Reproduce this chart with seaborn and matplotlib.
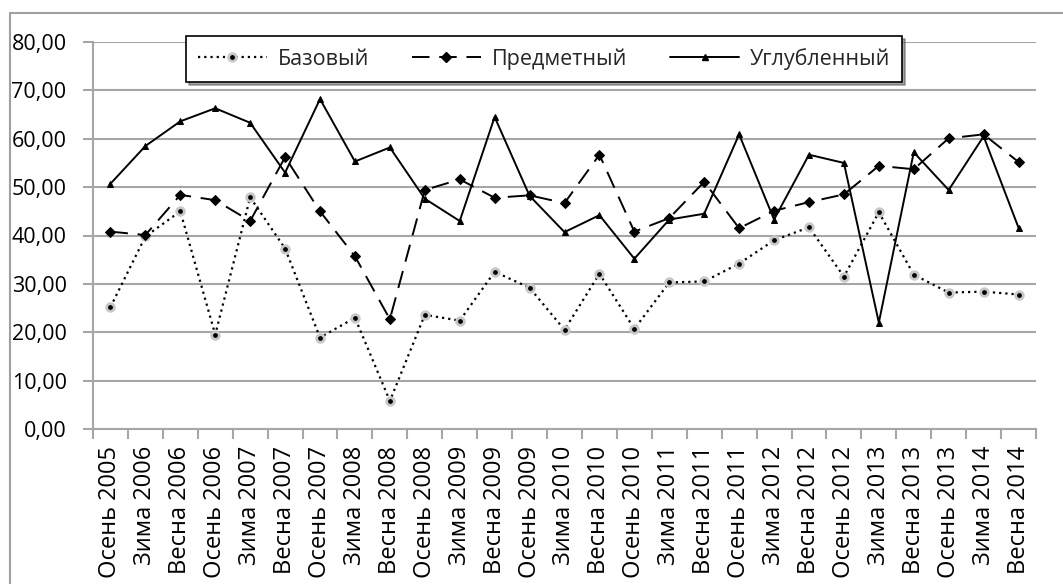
import numpy as np
import pandas as pd
import matplotlib
matplotlib.use('Agg')
import matplotlib.pyplot as plt
from matplotlib.lines import Line2D
import seaborn as sns

# categories (semester labels)
periods = ['Осень 2005', 'Зима 2006', 'Весна 2006', 'Осень 2006', 'Зима 2007',
           'Весна 2007', 'Осень 2007', 'Зима 2008', 'Весна 2008', 'Осень 2008',
           'Зима 2009', 'Весна 2009', 'Осень 2009', 'Зима 2010', 'Весна 2010',
           'Осень 2010', 'Зима 2011', 'Весна 2011', 'Осень 2011', 'Зима 2012',
           'Весна 2012', 'Осень 2012', 'Зима 2013', 'Весна 2013', 'Осень 2013',
           'Зима 2014', 'Весна 2014']

# series values
bazovy = [25.2, 39.8, 45.0, 19.5, 47.9, 37.3, 18.9, 23.0, 5.8, 23.6,
          22.4, 32.5, 29.2, 20.5, 32.1, 20.7, 30.3, 30.5, 34.2, 39.0,
          41.7, 31.5, 44.8, 31.9, 28.2, 28.4, 27.8]
predmetny = [40.8, 40.1, 48.4, 47.3, 43.0, 56.2, 45.0, 35.7, 22.7, 49.4,
             51.6, 47.8, 48.3, 46.7, 56.7, 40.8, 43.6, 51.1, 41.5, 45.1,
             46.9, 48.5, 54.4, 53.7, 60.1, 60.9, 55.2]
uglubl = [50.7, 58.5, 63.6, 66.3, 63.3, 53.0, 68.2, 55.3, 58.2, 47.6,
          43.0, 64.5, 48.2, 40.7, 44.2, 35.2, 43.3, 44.5, 60.9, 43.3,
          56.7, 55.0, 22.0, 57.2, 49.4, 60.5, 41.6]

series_names = ['Базовый', 'Предметный', 'Углубленный']

sns.set_theme(style='white')
plt.rcParams['font.family'] = ['Open Sans', 'DejaVu Sans']

df = pd.DataFrame({'pos': np.arange(len(periods)), 'period': periods,
                   series_names[0]: bazovy, series_names[1]: predmetny,
                   series_names[2]: uglubl})

fig = plt.figure(figsize=(10.63, 5.84), dpi=100)
ax = fig.add_axes([93 / 1063, 1 - 429 / 584, (1036 - 93) / 1063, (429 - 42) / 584])

grid_c = '#a6a6a6'
dot_style = (0, (1, 1.8))
dash_style = (0, (9, 5))

# base: dotted with grey halo markers
sns.lineplot(data=df, x='pos', y=series_names[0], ax=ax, color='black', lw=1.6,
             linestyle=dot_style, marker='o', markersize=5.5,
             markerfacecolor='black', markeredgecolor='#c8c8c8', markeredgewidth=2)
# subject: long dashes, diamonds
sns.lineplot(data=df, x='pos', y=series_names[1], ax=ax, color='black', lw=1.4,
             linestyle=dash_style, marker='D', markersize=5.5,
             markerfacecolor='black', markeredgecolor='black')
# advanced: solid, small triangles
sns.lineplot(data=df, x='pos', y=series_names[2], ax=ax, color='black', lw=1.4,
             marker='^', markersize=4.5, markerfacecolor='black',
             markeredgecolor='black')

ax.set_xlim(-0.5, len(periods) - 0.5)
ax.set_ylim(0, 80)
ax.set_yticks(np.arange(0, 81, 10))
ax.set_yticklabels([f'{v:.2f}'.replace('.', ',') for v in np.arange(0, 81, 10)])
ax.set_xticks(np.arange(len(periods)))
ax.set_xticklabels(periods, rotation=90)
ax.set_xticks(np.arange(-0.5, len(periods), 1), minor=True)
ax.tick_params(axis='x', which='major', length=0, pad=12, labelsize=17,
               labelcolor='black')
ax.tick_params(axis='x', which='minor', length=7, width=1.5, color=grid_c, bottom=True)
ax.tick_params(axis='y', length=7, width=1.5, color=grid_c, left=True, pad=12,
               labelsize=15.5, labelcolor='black')
ax.set_xlabel('')
ax.set_ylabel('')
ax.grid(axis='y', color=grid_c, lw=1.5)
ax.set_axisbelow(True)
for side in ['top', 'right']:
    ax.spines[side].set_visible(False)
for side in ['left', 'bottom']:
    ax.spines[side].set_color(grid_c)
    ax.spines[side].set_linewidth(1.5)

# outer chart border (only top and left visible in the crop)
fig.add_artist(Line2D([10 / 1063, 1.0], [1 - 13 / 584] * 2, color='#a0a0a0', lw=1.5))
fig.add_artist(Line2D([10 / 1063] * 2, [0, 1 - 13 / 584], color='#a0a0a0', lw=1.5))

handles = [
    Line2D([], [], color='black', lw=1.6, linestyle=dot_style, marker='o',
           markersize=5.5, markerfacecolor='black', markeredgecolor='#c8c8c8',
           markeredgewidth=2),
    Line2D([], [], color='black', lw=1.4, linestyle=dash_style, marker='D',
           markersize=5.5, markerfacecolor='black'),
    Line2D([], [], color='black', lw=1.4, marker='^', markersize=4.5,
           markerfacecolor='black'),
]
leg = fig.legend(handles, series_names, loc='center',  ncol=3,
                 bbox_to_anchor=(544 / 1063, 1 - 59 / 584),
                 fontsize=15.5, frameon=True, fancybox=False, shadow=True,
                 handlelength=3.2, handletextpad=0.5, columnspacing=2.0,
                 borderpad=0.55, borderaxespad=0)
leg.get_frame().set_edgecolor('black')
leg.get_frame().set_linewidth(1.2)

fig.savefig('out.png', dpi=100)
